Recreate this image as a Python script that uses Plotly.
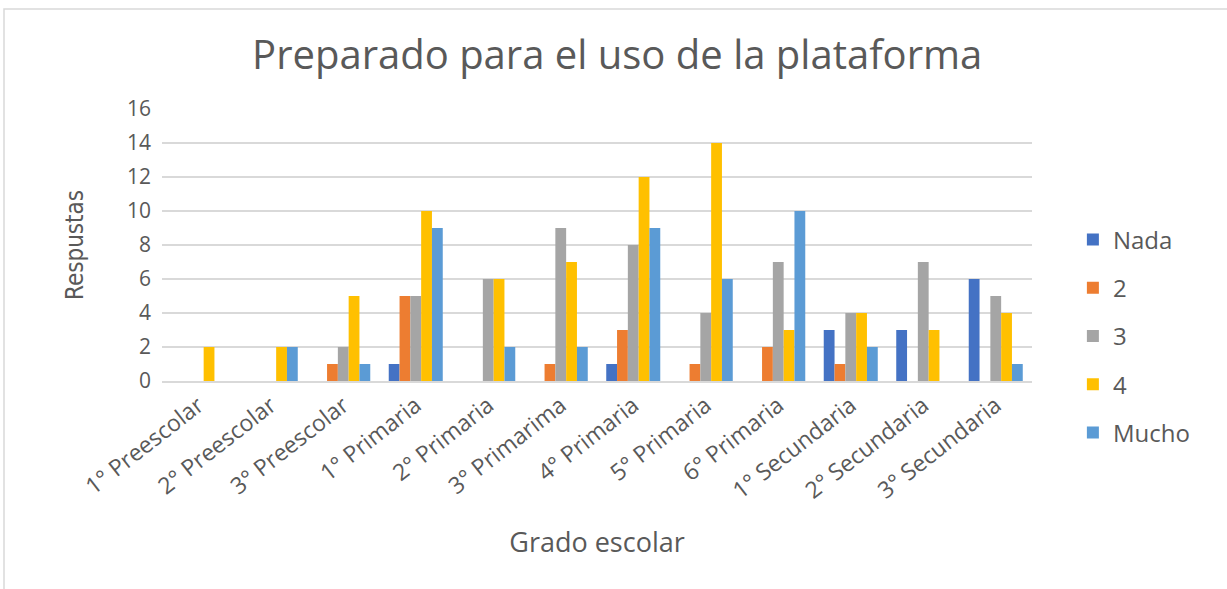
import plotly.graph_objects as go

categories = ["1° Preescolar", "2° Preescolar", "3° Preescolar", "1° Primaria",
              "2° Primaria", "3° Primarima", "4° Primaria", "5° Primaria",
              "6° Primaria", "1° Secundaria", "2° Secundaria", "3° Secundaria"]
nada = [0, 0, 0, 1, 0, 0, 1, 0, 0, 3, 3, 6]
dos = [0, 0, 1, 5, 0, 1, 3, 1, 2, 1, 0, 0]
tres = [0, 0, 2, 5, 6, 9, 8, 4, 7, 4, 7, 5]
cuatro = [2, 2, 5, 10, 6, 7, 12, 14, 3, 4, 3, 4]
mucho = [0, 2, 1, 9, 2, 2, 9, 6, 10, 2, 0, 1]

series = [("Nada", nada, "#4472C4"), ("2", dos, "#ED7D31"), ("3", tres, "#A5A5A5"),
          ("4", cuatro, "#FFC000"), ("Mucho", mucho, "#5B9BD5")]

fig = go.Figure()
for name, vals, col in series:
    fig.add_trace(go.Bar(x=categories, y=vals, name=name, legendgroup=name,
                         marker=dict(color=col, line=dict(width=0))))

font = "Open Sans, DejaVu Sans, sans-serif"
L, R, T, B = 162, 195, 109, 208
PW, PH = 1227 - L - R, 589 - T - B
fig.update_layout(
    width=1227, height=589,
    paper_bgcolor="white", plot_bgcolor="white",
    margin=dict(l=L, r=R, t=T, b=B),
    barmode="group", bargap=0.255, bargroupgap=0,
    title=dict(text="Preparado para el uso de la plataforma", x=0.503, xanchor="center",
               y=1 - 55 / 589, yanchor="middle", font=dict(family=font, size=40, color="#595959")),
    font=dict(family=font, color="#595959"),
    legend=dict(x=1.047, xanchor="left", y=(381 - 336) / PH, yanchor="middle",
                font=dict(size=24, color="#595959"), tracegroupgap=14,
                itemwidth=30),
    xaxis=dict(tickangle=-38, tickfont=dict(size=23, color="#595959"),
               title=dict(text="Grado escolar", font=dict(size=27, color="#595959"), standoff=29),
               showline=True, linecolor="#d9d9d9", linewidth=2, ticks=""),
    yaxis=dict(range=[0, 16], dtick=2, tickfont=dict(size=21, color="#595959"),
               gridcolor="#d9d9d9", gridwidth=1.5, zeroline=False, ticklabelstandoff=10,
               title=dict(text="Respustas", font=dict(size=24, color="#595959",
                          family="Liberation Sans Narrow, DejaVu Sans Condensed, sans-serif"),
                          standoff=36),
               ticks="", ticklen=0),
    shapes=[dict(type="rect", xref="paper", yref="paper",
                 x0=(4 - L) / PW, x1=(1240 - L) / PW,
                 y0=-(610 - 381) / PH, y1=(381 - 9) / PH,
                 line=dict(color="#d9d9d9", width=1.5))],
)
fig.write_html("out.html", config={"displayModeBar": False},
               post_script="document.body.style.margin='0';document.body.style.padding='0';")
